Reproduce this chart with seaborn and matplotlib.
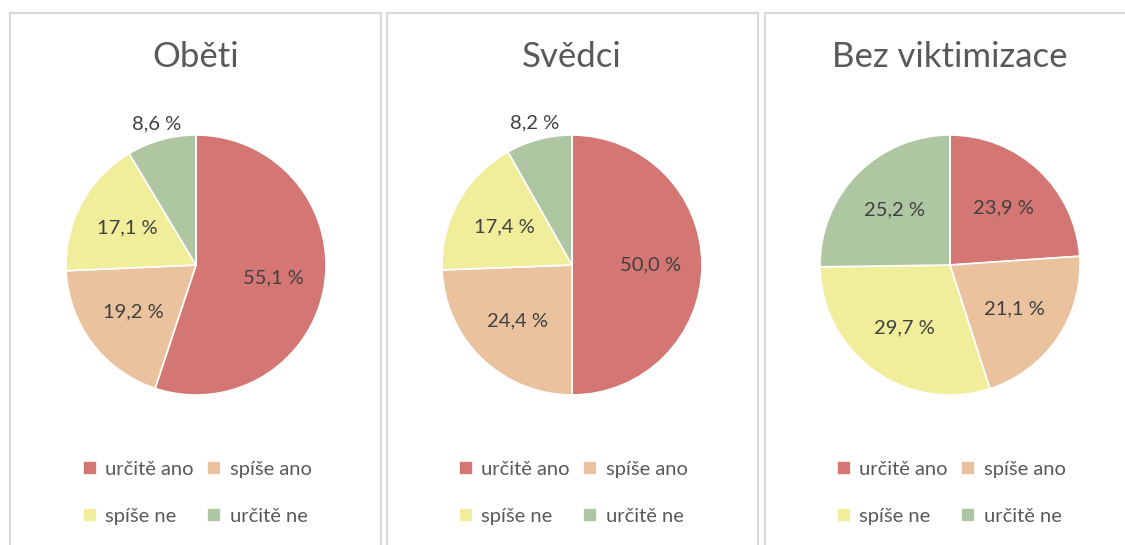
import numpy as np
import matplotlib
matplotlib.use("Agg")
import matplotlib.pyplot as plt
from matplotlib.patches import Rectangle
import seaborn as sns

sns.set_theme(style="white")
plt.rcParams['font.family'] = ['Lato', 'DejaVu Sans']

titles = ["Oběti", "Svědci", "Bez viktimizace"]
categories = ["určitě ano", "spíše ano", "spíše ne", "určitě ne"]
obeti = [55.1, 19.2, 17.1, 8.6]
svedci = [50.0, 24.4, 17.4, 8.2]
bez = [23.9, 21.1, 29.7, 25.2]
series = [obeti, svedci, bez]
colors = ["#D47774", "#EBC29E", "#F0EE9A", "#AFC6A3"]

W, H = 1125, 545
fig = plt.figure(figsize=(W / 100, H / 100), dpi=100)
fig.patch.set_facecolor("white")

panel_left = [10, 387, 765]
panel_right = [381, 758, 1135]
pie_cx = [196, 572, 950]
pie_cy = 265
R = 130
top = 13

for i in range(3):
    fig.patches.append(Rectangle((panel_left[i] / W, -0.05), (panel_right[i] - panel_left[i]) / W,
                                 (H - top) / H + 0.05, transform=fig.transFigure,
                                 fill=False, edgecolor="#D9D9D9", linewidth=1.5))
    ax = fig.add_axes([(pie_cx[i] - R) / W, (H - pie_cy - R) / H, 2 * R / W, 2 * R / H])
    vals = series[i]
    wedges, texts = ax.pie(vals, colors=colors, startangle=90, counterclock=False,
                           wedgeprops=dict(edgecolor="white", linewidth=1.2))
    ax.set_xlim(-1, 1)
    ax.set_ylim(-1, 1)
    ax.set_aspect("equal")
    for w, v in zip(wedges, vals):
        ang = np.deg2rad((w.theta1 + w.theta2) / 2)
        d = 1.13 if v < 10 else 0.6
        ax.text(d * np.cos(ang), d * np.sin(ang), f"{v:.1f} %".replace(".", ","),
                ha="center", va="center", fontsize=14.5, color="#404040")
    fig.text(pie_cx[i] / W, 1 - 57 / H, titles[i], ha="center", va="center",
             fontsize=25, color="#595959")
    order = [0, 2, 1, 3]
    fig.legend([wedges[k] for k in order], [categories[k] for k in order],
               loc="center", bbox_to_anchor=((pie_cx[i] + 1) / W, 1 - 493 / H),
               ncol=2, frameon=False, fontsize=14.5, labelcolor="#595959",
               handlelength=0.7, handleheight=0.7, handletextpad=0.4,
               columnspacing=0.7, labelspacing=1.45)

fig.savefig("out.png", dpi=100, facecolor="white")
